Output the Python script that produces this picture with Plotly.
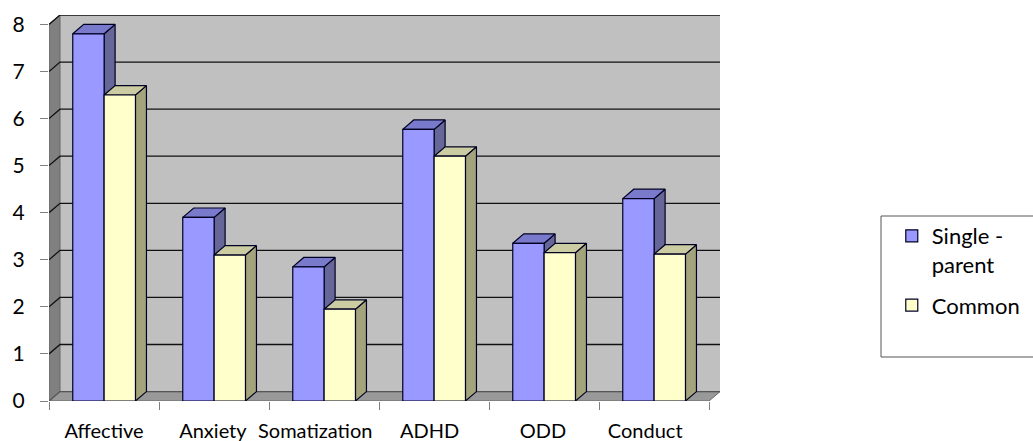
import plotly.graph_objects as go

categories = ["Affective", "Anxiety", "Somatization", "ADHD", "ODD", "Conduct"]
single_parent = [7.8, 3.9, 2.85, 5.77, 3.35, 4.3]
common = [6.5, 3.1, 1.95, 5.2, 3.15, 3.12]
label_positions = [0.5, 1.49, 2.42, 3.46, 4.49, 5.42]
y_ticks = [0, 1, 2, 3, 4, 5, 6, 7, 8]

DX, DY = 0.1, 0.2
BAR_W, OFF = 0.285, 0.216
FONT = "Lato"
fig = go.Figure()


def poly(xs, ys, fill, line="#000000", lw=1, z=0):
    fig.add_trace(go.Scatter(x=xs, y=ys, mode="lines", fill="toself" if fill else None,
                             fillcolor=fill, line=dict(color=line, width=lw),
                             hoverinfo="skip", showlegend=False, zorder=z))


n = len(categories)
# walls and floor
poly([0.1, n + .1, n + .1, 0.1, 0.1], [DY, DY, 8 + DY, 8 + DY, DY], "#C0C0C0", "#C0C0C0", 1, -5)
poly([0, .1, .1, 0, 0], [0, DY, 8 + DY, 8, 0], "#808080", "#666666", 1, -4)
poly([0, n, n + .1, .1, 0], [0, 0, DY, DY, 0], "#999999", "#666666", 1, -4)
# gridlines on wall
for v in y_ticks:
    poly([0, .1, n + .1], [v, v + DY, v + DY], None, "#111111" if v else "#555555", 1.3, -3)


def series(name, vals, shift, face, top, side, z):
    xs = [i + OFF + shift for i in range(n)]
    for x, v in zip(xs, vals):
        r = x + BAR_W
        poly([r, r + DX, r + DX, r, r], [0, DY, v + DY, v, 0], side, "#000022", 1.2, z)
        poly([x, x + DX, r + DX, r, x], [v, v + DY, v + DY, v, v], top, "#000022", 1.2, z)
    fig.add_trace(go.Bar(x=xs, y=vals, name=name, width=BAR_W, offset=0, legendgroup=name,
                         marker=dict(color=face, line=dict(color="#000022", width=1.2)),
                         zorder=z + 1))


series("Single -<br>parent", single_parent, 0, "#9999FF", "#7A7ACC", "#666699", 1)
series("Common", common, BAR_W, "#FFFFCC", "#CCCCA3", "#A3A37C", 3)

box_l, box_r, box_t, box_b = 832 / 671, 1.5, (401 - 216) / 386, (401 - 357) / 386
box_line = dict(color="#555555", width=1)
fig.update_layout(
    width=1033, height=441, autosize=False,
    margin=dict(l=49, r=313, t=15, b=40, autoexpand=False),
    paper_bgcolor="white", plot_bgcolor="white", barmode="overlay",
    font=dict(family=FONT, size=19, color="#000000"),
    xaxis=dict(range=[0, n + .1], tickvals=label_positions, ticktext=categories, ticks="",
               showgrid=False, zeroline=False, showline=False, tickfont=dict(size=20),
               ticklabelstandoff=16, automargin=False,
               minor=dict(tick0=0, dtick=1, ticks="outside", ticklen=8, tickcolor="#808080", showgrid=False)),
    yaxis=dict(range=[0, 8 + DY], tickvals=y_ticks, ticks="outside", ticklen=8,
               tickcolor="#808080", showgrid=False, zeroline=False, showline=False,
               tickfont=dict(size=21), ticklabelstandoff=11, automargin=False),
    legend=dict(x=1.256, xanchor="left", y=0.338, yanchor="middle", bgcolor="rgba(0,0,0,0)",
                borderwidth=0, traceorder="grouped", tracegroupgap=9, font=dict(size=22),
                itemwidth=30, valign="top"),
    shapes=[dict(type="line", xref="x domain", yref="y domain", x0=box_l, x1=box_r, y0=box_t, y1=box_t, line=box_line),
            dict(type="line", xref="x domain", yref="y domain", x0=box_l, x1=box_r, y0=box_b, y1=box_b, line=box_line),
            dict(type="line", xref="x domain", yref="y domain", x0=box_l, x1=box_l, y0=box_t, y1=box_b, line=box_line)],
)
fig.write_html("out.html", post_script="document.body.style.margin='0';",
               config=dict(displayModeBar=False))
